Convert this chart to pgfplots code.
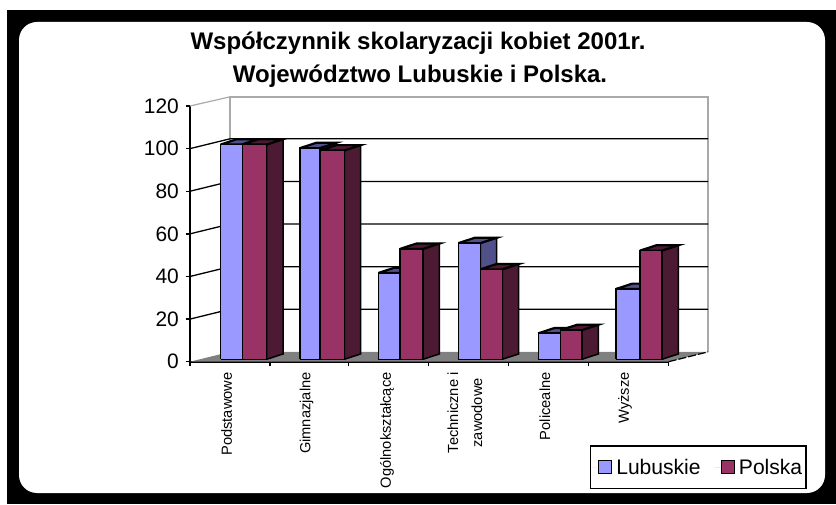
\documentclass[border=0pt]{standalone}
\usepackage{pgfplots}
\pgfplotsset{compat=1.18}
\usepackage{fontspec}
\setmainfont{Liberation Sans}
\definecolor{lubF}{RGB}{153,153,255}
\definecolor{lubS}{RGB}{80,80,138}
\definecolor{polF}{RGB}{153,51,102}
\definecolor{polS}{RGB}{77,26,51}
\definecolor{wallg}{RGB}{170,170,170}
\definecolor{floorg}{RGB}{128,128,128}
\newcommand{\px}{0.75pt}
% one 3D-looking bar: left x, right x, value, front colour, side colour
\newcommand{\threedbar}[5]{%
  \pgfmathsetmacro{\xa}{#1}\pgfmathsetmacro{\xb}{#2}%
  \pgfmathsetmacro{\xc}{#1+16.3}\pgfmathsetmacro{\xd}{#2+16.3}%
  \pgfmathsetmacro{\yb}{1.13}\pgfmathsetmacro{\yt}{#3+1.13}%
  \pgfmathsetmacro{\yB}{1.13+2.5}\pgfmathsetmacro{\yT}{#3+1.13+2.5}%
  \addplot[draw=black,fill=#5,line width=1.5*\px] coordinates {(\xb,\yb) (\xd,\yB) (\xd,\yT) (\xb,\yt) (\xb,\yb)};
  \addplot[draw=black,fill=#5,line width=2.2*\px] coordinates {(\xa,\yt) (\xc,\yT) (\xd,\yT) (\xb,\yt) (\xa,\yt)};
  \addplot[draw=black,fill=#4,line width=1.5*\px] coordinates {(\xa,\yb) (\xb,\yb) (\xb,\yt) (\xa,\yt) (\xa,\yb)};
}
\begin{document}
\begin{tikzpicture}[x=\px,y=\px]
\useasboundingbox (0,0) rectangle (836,504);
\fill[white] (0,0) rectangle (836,504);
\fill[black] (7,0) rectangle (836,494);
\fill[white,rounded corners=18*\px] (19,11) rectangle (825,482);
\node[font=\bfseries\fontsize{18}{22}\selectfont,anchor=base] at (418,454) {Współczynnik skolaryzacji kobiet 2001r.};
\node[font=\bfseries\fontsize{18}{22}\selectfont,anchor=base] at (420,421) {Województwo Lubuskie i Polska.};
\begin{axis}[
  at={(190*\px,142.3*\px)},anchor=south west,
  scale only axis,
  width=478.7*\px,height=255.7*\px,
  xmin=190,xmax=668.7,ymin=0,ymax=120,
  clip=false,
  axis x line=bottom,axis y line=left,
  axis line style={-,line width=1.6*\px,black},
  xtick={190,270,348.3,428.3,508.3,588.3,668.3},
  xticklabels={},
  extra x ticks={226.7,306.7,387,465,545,625},
  extra x tick style={major tick length=0pt,tick style={draw=none}},
  extra x tick labels={Podstawowe,Gimnazjalne,Ogólnokształcące,{Techniczne i\\zawodowe},Policealne,Wyższe},
  extra x tick style={xticklabel style={rotate=90,anchor=east,align=center,font=\fontsize{11}{18}\selectfont,xshift=-6*\px}},
  ytick={0,20,40,60,80,100,120},
  yticklabel style={font=\fontsize{15.7}{18}\selectfont,/pgf/number format/assume math mode=true,xshift=-2*\px},
  major tick length=4.5*\px,
  tick align=outside,
  tick style={line width=1.3*\px,black},
  legend style={at={(axis cs:590,-39.3)},anchor=north west,draw=black,line width=1.3*\px,
    font=\fontsize{15.8}{18}\selectfont,legend columns=2,inner xsep=1*\px,inner ysep=10*\px,
    /tikz/column 2/.style={column sep=11*\px},
    legend cell align=left},
  legend image code/.code={\draw[#1,line width=1.5*\px] (7*\px,-6*\px) rectangle (20*\px,7*\px);\path[draw=none] (0,0)--(22*\px,0);},
]
\addlegendimage{draw=black,fill=lubF}
\addlegendentry{Lubuskie}
\addlegendimage{draw=black,fill=polF}
\addlegendentry{Polska}
% floor and back wall (x pixel, value on the front scale)
\addplot[draw=none,fill=floorg] coordinates {(190,0) (668.7,0) (708,4.6) (230,4.6) (190,0)};
\addplot[draw=wallg,line width=1.5*\px] coordinates {(230,4.6) (230,124.3) (708,124.3) (708,4.6)};
\addplot[draw=wallg,line width=1.2*\px] coordinates {(190,120) (230,124.3)};
\addplot[draw=black,line width=1.2*\px,dash pattern=on 6pt off 1.5pt] coordinates {(668.7,0) (708,4.6)};
\addplot[black,line width=1.3*\px] coordinates {(190,20) (230,24.6) (708,24.6)};
\addplot[black,line width=1.3*\px] coordinates {(190,40) (230,44.6) (708,44.6)};
\addplot[black,line width=1.3*\px] coordinates {(190,60) (230,64.6) (708,64.6)};
\addplot[black,line width=1.3*\px] coordinates {(190,80) (230,84.6) (708,84.6)};
\addplot[black,line width=1.3*\px] coordinates {(190,100) (230,104.6) (708,104.6)};
\threedbar{220.7}{242.3}{100.8}{lubF}{lubS}
\threedbar{242.3}{266.7}{100.8}{polF}{polS}
\threedbar{300}{320}{99.1}{lubF}{lubS}
\threedbar{320}{344.3}{98.0}{polF}{polS}
\threedbar{378.3}{400}{40.5}{lubF}{lubS}
\threedbar{400}{423}{51.8}{polF}{polS}
\threedbar{458.3}{480.3}{54.5}{lubF}{lubS}
\threedbar{480.3}{502.3}{42.2}{polF}{polS}
\threedbar{538.3}{560.7}{12.2}{lubF}{lubS}
\threedbar{560.7}{582}{13.7}{polF}{polS}
\threedbar{616}{640}{33.0}{lubF}{lubS}
\threedbar{640}{662}{51.0}{polF}{polS}
\end{axis}
\end{tikzpicture}
\end{document}
